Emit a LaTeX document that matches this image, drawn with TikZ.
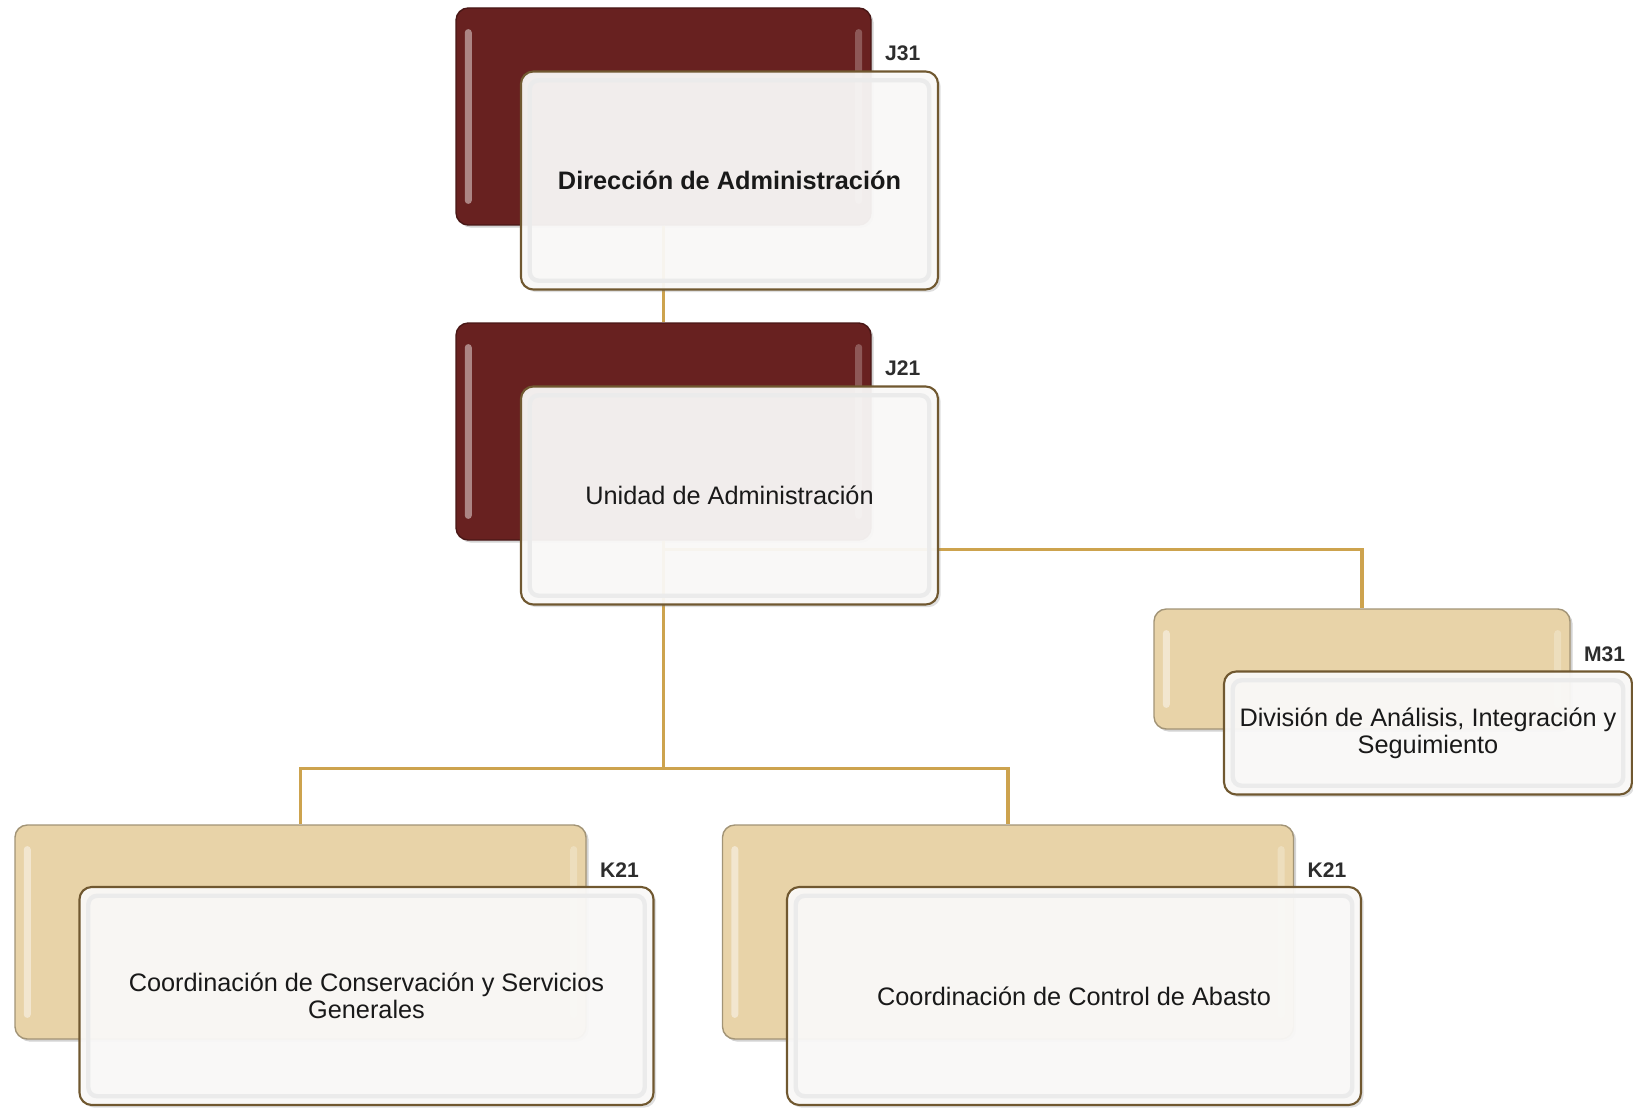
\documentclass[tikz,border=0pt]{standalone}
\usepackage{fontspec}
\setmainfont{Liberation Sans}
\usetikzlibrary{positioning, calc, shadows}
\definecolor{DarkWine}{RGB}{104,33,32}
\definecolor{Sand}{RGB}{232,211,168}
\definecolor{Gold}{RGB}{205,163,78}
\definecolor{FrameBrown}{RGB}{112,88,48}
\definecolor{Paper}{RGB}{252,251,250}
\definecolor{CodeGray}{RGB}{45,45,45}

\tikzset{
  back/.style={draw=#1!70!black, fill=#1, line width=0.8pt, rounded corners=7pt,
    drop shadow={opacity=.35, shadow xshift=1.5pt, shadow yshift=-1.5pt},
    path picture={
      \fill[white, opacity=.45, rounded corners=2pt]
        ([shift={(5pt,-12pt)}]path picture bounding box.north west) rectangle
        ([shift={(9pt,12pt)}]path picture bounding box.south west);
      \fill[white, opacity=.25, rounded corners=2pt]
        ([shift={(-9pt,-12pt)}]path picture bounding box.north east) rectangle
        ([shift={(-5pt,12pt)}]path picture bounding box.south east);
    }},
  front/.style={draw=FrameBrown, fill=Paper, fill opacity=.93, text opacity=1,
    line width=1.2pt, rounded corners=7pt, align=center, text=black!90,
    font=\fontsize{14.4}{15.5}\selectfont,
    drop shadow={opacity=.25, shadow xshift=1.5pt, shadow yshift=-1.5pt},
    path picture={
      \draw[black!8, line width=2.5pt, rounded corners=5pt]
        ([shift={(5pt,-5pt)}]path picture bounding box.north west) rectangle
        ([shift={(-5pt,5pt)}]path picture bounding box.south east);
    }},
  conn/.style={Gold, line width=2pt},
  code/.style={font=\bfseries\fontsize{12}{14}\selectfont, text=CodeGray, anchor=west, inner sep=0pt}
}

\begin{document}
\begin{tikzpicture}[x=0.02cm, y=-0.02cm]
\useasboundingbox (0,0) rectangle (1633,1108);

% cajas de fondo
\foreach \n/\x/\y/\w/\h/\c in {%
    b1/663.5/116.5/415/217/DarkWine,
    b2/663.5/431.5/415/217/DarkWine,
    m1/1362/669/416/120/Sand,
    k1/300.5/932/571/214/Sand,
    k2/1008/932/571/214/Sand}{%
    \node[back=\c, minimum width=\w*0.02cm, minimum height=\h*0.02cm] (\n) at (\x,\y) {};
}

% claves
\foreach \b/\t in {b1/J31, b2/J21, m1/M31, k1/K21, k2/K21}{%
    \node[code] (c-\b) at ($(\b.north east)+(13,46)$) {\t};
}

% conectores
\coordinate (side) at ($(b2.south)+(0,9)$);
\coordinate (fork) at ($(b2.south)+(0,228)$);
\draw[conn] (b1.south) -- (b2.north);
\draw[conn] (b2.south) -- (fork);
\draw[conn] (side) -| (m1.north);
\draw[conn] (fork) -| (k1.north);
\draw[conn] (fork) -| (k2.north);

% cajas de texto
\foreach \n/\b/\w/\h/\t in {%
    f1/b1/417/218/{\bfseries Dirección de Administración},
    f2/b2/417/218/{Unidad de Administración},
    f3/m1/408/123/{División de Análisis, Integración y\\Seguimiento},
    f4/k1/574/218/{Coordinación de Conservación y Servicios\\Generales},
    f5/k2/574/218/{Coordinación de Control de Abasto}}{%
    \node[front, minimum width=\w*0.02cm, minimum height=\h*0.02cm] (\n) at ($(\b)+(66,64)$) {\t};
}

\end{tikzpicture}
\end{document}
